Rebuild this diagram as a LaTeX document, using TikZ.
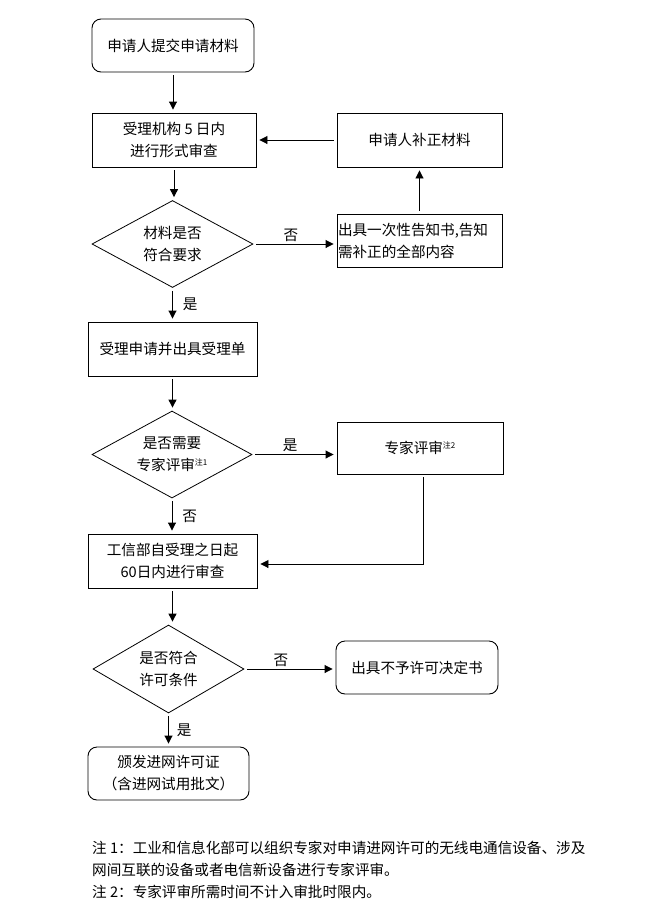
\documentclass[tikz,border=0pt]{standalone}
\usepackage{fontspec}
\setmainfont{Noto Sans CJK SC}
\usetikzlibrary{shapes.geometric,arrows.meta}
\newcommand{\zhu}[1]{\raisebox{0.7ex}{\fontsize{8}{9}\selectfont 注#1}}

\begin{document}
\begin{tikzpicture}[
    x=1pt, y=-1pt,
    font=\fontsize{14.6}{22}\selectfont,
    box/.style={rectangle, draw, line width=0.9pt, minimum width=165pt, minimum height=54pt, inner sep=1pt, align=center},
    rbox/.style={box, rounded corners=9pt},
    decision/.style={diamond, draw, line width=0.8pt, aspect=1.85, minimum width=161pt, minimum height=87pt, inner sep=-6pt, align=center},
    arrow/.style={-{Triangle[length=8pt,width=8pt]}, line width=0.9pt, shorten <=3pt, shorten >=3pt},
    lbl/.style={inner sep=2pt}
]
\useasboundingbox (0,0) rectangle (661,919);

% left column
\node[rbox, minimum width=162pt, minimum height=53pt] (submit) at (173,45.5) {申请人提交申请材料};
\node[box, minimum width=164pt] (check) at (174,140) {受理机构 5 日内\\进行形式审查};
\node[decision] (meet) at (172.5,244) {材料是否\\符合要求};
\node[box, minimum width=169pt] (accept) at (172.5,349) {受理申请并出具受理单};
\node[decision, minimum width=160pt] (needexp) at (172,454.5) {是否需要\\专家评审\zhu{1}};
\node[box, minimum width=169pt] (review) at (172.5,561) {工信部自受理之日起\\60日内进行审查};
\node[decision, minimum width=151pt, minimum height=88pt] (permit) at (168.5,669) {是否符合\\许可条件};
\node[rbox, minimum width=161pt, minimum height=53pt] (grant) at (168.5,773.5) {颁发进网许可证\\（含进网试用批文）};

% right column
\node[box] (supply) at (419.5,140) {申请人补正材料};
\node[box, minimum height=53pt, text width=163pt, align=left] (notify) at (419.5,240.5) {出具一次性告知书,告知\\需补正的全部内容};
\node[box, minimum width=166pt, minimum height=52pt] (expert) at (420,448) {专家评审\zhu{2}};
\node[rbox, minimum width=162pt, minimum height=53pt] (refuse) at (417,667.5) {出具不予许可决定书};

% notes
\node[anchor=west, align=left, inner sep=0pt] (note1) at (92,859) {注 1：工业和信息化部可以组织专家对申请进网许可的无线电通信设备、涉及\\网间互联的设备或者电信新设备进行专家评审。};
\node[anchor=west, inner sep=0pt] (note2) at (92,892) {注 2：专家评审所需时间不计入审批时限内。};

\draw[arrow] (submit.south) -- (submit.south |- check.north);
\draw[arrow] (check.south) -- (check.south |- meet.north);
\draw[arrow] (meet.south) -- node[lbl, right, xshift=8pt] (yes1) {是} (meet.south |- accept.north);
\draw[arrow] (meet.east) -- node[lbl, above, pos=0.45] (no1) {否} (notify.west |- meet.east);
\draw[arrow] (notify.north) -- (supply.south);
\draw[arrow] (supply.west) -- (check.east);
\draw[arrow] (accept.south) -- (accept.south |- needexp.north);
\draw[arrow] (needexp.east) -- node[lbl, above, pos=0.45] (yes2) {是} (expert.west |- needexp.east);
\draw[arrow] (needexp.south) -- node[lbl, right, xshift=8pt] (no2) {否} (needexp.south |- review.north);
\draw[arrow] ([xshift=3pt]expert.south) |- ([yshift=-3pt]review.east);
\draw[arrow] (review.south) -- (review.south |- permit.north);
\draw[arrow] (permit.east) -- node[lbl, above, pos=0.4] (no3) {否} (refuse.west |- permit.east);
\draw[arrow] (permit.south) -- node[lbl, right, xshift=6pt] (yes3) {是} (permit.south |- grant.north);
\end{tikzpicture}
\end{document}
